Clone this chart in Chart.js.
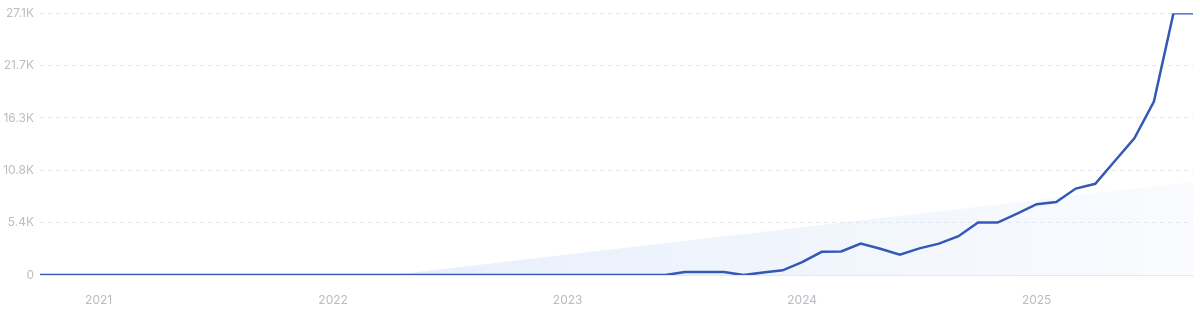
<!DOCTYPE html>
<html>
<head>
<meta charset="utf-8">
<script src="https://cdn.jsdelivr.net/npm/chart.js@4/dist/chart.umd.min.js"></script>
<style>
    html, body { margin: 0; padding: 0; background: #fff; }
    #wrap { width: 1200px; height: 314px; position: relative; }
</style>
</head>
<body>
<div id="wrap"><canvas id="trendChart"></canvas></div>
<script>
    // months, Oct 2020 .. Sep 2025
    const months = [
        '2020-10', '2020-11', '2020-12',
        '2021-01', '2021-02', '2021-03', '2021-04', '2021-05', '2021-06', '2021-07', '2021-08', '2021-09', '2021-10', '2021-11', '2021-12',
        '2022-01', '2022-02', '2022-03', '2022-04', '2022-05', '2022-06', '2022-07', '2022-08', '2022-09', '2022-10', '2022-11', '2022-12',
        '2023-01', '2023-02', '2023-03', '2023-04', '2023-05', '2023-06', '2023-07', '2023-08', '2023-09', '2023-10', '2023-11', '2023-12',
        '2024-01', '2024-02', '2024-03', '2024-04', '2024-05', '2024-06', '2024-07', '2024-08', '2024-09', '2024-10', '2024-11', '2024-12',
        '2025-01', '2025-02', '2025-03', '2025-04', '2025-05', '2025-06', '2025-07', '2025-08', '2025-09'
    ];

    const searchVolume = [
        0, 0, 0,
        0, 0, 0, 0, 0, 0, 0, 0, 0, 0, 0, 0,
        0, 0, 0, 0, 0, 0, 0, 0, 0, 0, 0, 0,
        0, 0, 0, 0, 0, 0, 310, 310, 310, 0, 250, 480,
        1340, 2400, 2430, 3260, 2720, 2110, 2760, 3250, 4020, 5430, 5430, 6350,
        7330, 7560, 8950, 9440, 11800, 14150, 17950, 27100, 27100
    ];

    // linear trend (start / end)
    const trendMonths = ['2022-04', '2025-09'];
    const trendValues = [0, 9650];

    const yTicks = [0, 5420, 10840, 16260, 21680, 27100];

    const fmtK = v => v === 0 ? '0' : (v / 1000).toFixed(1) + 'K';

    const ctx = document.getElementById('trendChart');
    const trendChart = new Chart(ctx, {
        type: 'line',
        data: {
            labels: months,
            datasets: [
                {
                    label: 'Volume',
                    data: searchVolume,
                    borderColor: '#3358b6',
                    borderWidth: 2.5,
                    pointRadius: 0,
                    tension: 0,
                    fill: false,
                    order: 0
                },
                {
                    label: 'Trend',
                    data: trendMonths.map((m, i) => ({ x: m, y: trendValues[i] })),
                    borderWidth: 0,
                    borderColor: 'rgba(0,0,0,0)',
                    pointRadius: 0,
                    tension: 0,
                    fill: 'origin',
                    order: 1,
                    backgroundColor: function (context) {
                        const area = context.chart.chartArea;
                        if (!area) return 'rgba(225,235,250,0.4)';
                        const g = context.chart.ctx.createLinearGradient(390, 0, area.right, 0);
                        g.addColorStop(0, 'rgba(220,232,250,0.65)');
                        g.addColorStop(0.5, 'rgba(220,232,250,0.42)');
                        g.addColorStop(1, 'rgba(220,232,250,0.16)');
                        return g;
                    }
                }
            ]
        },
        options: {
            responsive: true,
            maintainAspectRatio: false,
            animation: false,
            layout: { padding: { top: 6, right: 7, left: 0, bottom: 0 } },
            plugins: {
                legend: { display: false },
                tooltip: { enabled: false }
            },
            scales: {
                x: {
                    offset: false,
                    grid: { display: false, drawTicks: false },
                    border: { display: true, color: '#e3e9f4', width: 1 },
                    ticks: {
                        autoSkip: false,
                        maxRotation: 0,
                        padding: 18,
                        color: '#b7bbc3',
                        font: { family: 'Inter', size: 12 },
                        callback: function (value) {
                            const m = months[value];
                            return m.endsWith('-01') ? m.slice(0, 4) : '';
                        }
                    },
                    afterFit: function (scale) {
                        scale.height = 39;
                        scale.paddingLeft = 0;
                        scale.paddingRight = 0;
                    }
                },
                y: {
                    min: 0,
                    max: 27100,
                    afterBuildTicks: function (scale) {
                        scale.ticks = yTicks.map(v => ({ value: v }));
                    },
                    grid: {
                        color: '#e4e6ea',
                        drawTicks: false
                    },
                    border: { display: false, dash: [4, 4] },
                    ticks: {
                        padding: 6,
                        color: '#bbbec5',
                        font: { family: 'Inter', size: 12 },
                        callback: v => fmtK(v)
                    },
                    afterFit: function (scale) { scale.width = 40; }
                }
            }
        }
    });
</script>
</body>
</html>
